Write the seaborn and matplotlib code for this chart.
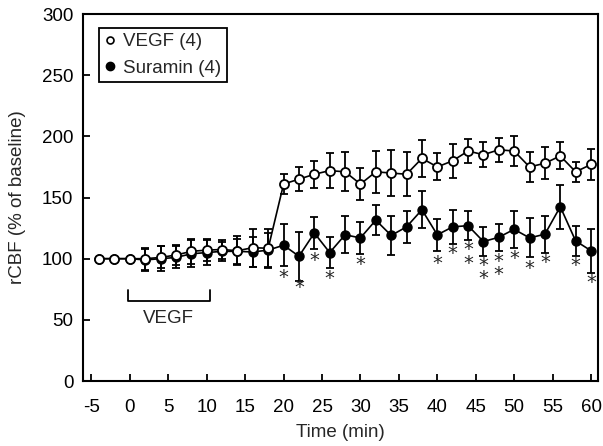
import numpy as np
import pandas as pd
import matplotlib
matplotlib.use("Agg")
import matplotlib.pyplot as plt
from matplotlib.lines import Line2D
import seaborn as sns

# ---- data ----
time = list(range(-4, 62, 2))
vegf_mean = [100, 100, 100, 100, 101, 103, 106, 107, 107.5, 106.5, 109, 108.5,
             161, 165, 169, 172, 171, 161, 171, 170, 169, 182, 175, 180, 188,
             185, 189, 188, 175, 178, 184, 171, 177]
vegf_sem = [0, 0, 0, 9, 9, 8.5, 10, 9, 8, 12, 15.5, 16,
            8, 10, 11, 14, 16, 13, 17, 19, 18, 15, 11, 14, 10,
            10, 10, 12, 12, 13, 11, 8, 13]
suramin_mean = [100, 100, 100, 99, 100, 101, 104, 105, 106, 106, 105.5, 107,
                111, 102, 121, 105, 119.5, 117, 131.5, 119, 126, 140, 119.5, 126, 127,
                114, 117.5, 124, 117, 120, 142.5, 114.5, 106.5]
suramin_sem = [0, 0, 0, 9, 10, 9, 11, 10, 8, 10, 12, 14,
               17, 20, 13, 13, 15, 13, 12, 16, 13, 15, 13, 14, 12,
               12, 11, 15, 16, 15, 18, 12, 18]
# significance asterisks: time, centre height of the group, number stacked
star_times = [20, 22, 24, 26, 30, 40, 42, 44, 46, 48, 50, 52, 54, 58, 60]
star_values = [85, 76.5, 98.5, 84, 95, 96, 104, 101.75, 89.25, 92.5, 100, 92, 97, 94.5, 80.5]
star_counts = [1, 1, 1, 1, 1, 1, 1, 2, 2, 2, 1, 1, 1, 1, 1]
series_labels = ["VEGF (4)", "Suramin (4)"]
x_ticks = list(range(-5, 61, 5))
y_ticks = list(range(0, 301, 50))
bracket_start, bracket_end, bracket_low, bracket_high = -0.3, 10.4, 65, 74
bracket_label = "VEGF"

sns.set_theme(style="ticks")
plt.rcParams['font.family'] = ['Liberation Sans', 'DejaVu Sans']
plt.rcParams['axes.unicode_minus'] = False
FS = 13.5

fig = plt.figure(figsize=(6.03, 4.46), dpi=100)
ax = fig.add_axes([0.1376, 0.1457, 0.854, 0.8229])

df = pd.DataFrame({"time": time, "vegf": vegf_mean, "vegf_sem": vegf_sem,
                   "suramin": suramin_mean, "suramin_sem": suramin_sem})

lw = 1.3
# Suramin (filled)
d = df[df.suramin_sem > 0]
ax.errorbar(d.time, d.suramin, yerr=d.suramin_sem, fmt='none', ecolor='black',
            elinewidth=lw, capsize=3, capthick=lw, zorder=2)
sns.lineplot(data=df, x="time", y="suramin", ax=ax, color='black', linewidth=1.2,
             marker='o', markersize=6.5, markerfacecolor='black',
             markeredgecolor='black', markeredgewidth=1.0, zorder=3)
# VEGF (open)
d = df[df.vegf_sem > 0]
ax.errorbar(d.time, d.vegf, yerr=d.vegf_sem, fmt='none', ecolor='black',
            elinewidth=lw, capsize=3, capthick=lw, zorder=4)
sns.lineplot(data=df, x="time", y="vegf", ax=ax, color='black', linewidth=1.2,
             marker='o', markersize=6.5, markerfacecolor='white',
             markeredgecolor='black', markeredgewidth=1.3, zorder=5)

# asterisks
for t, v, n in zip(star_times, star_values, star_counts):
    ax.text(t, v, "\n".join(["*"] * n), ha='center', va='center', fontsize=14,
            family='DejaVu Sans', linespacing=0.62)

# VEGF bracket
ax.plot([bracket_start, bracket_start, bracket_end, bracket_end],
        [bracket_high, bracket_low, bracket_low, bracket_high], color='black', lw=1.3)
ax.text((bracket_start + bracket_end) / 2, 51, bracket_label, ha='center',
        va='center', fontsize=FS)

ax.set_xlim(-6.1, 60.9)
ax.set_ylim(0, 300)
ax.set_xticks(x_ticks)
ax.set_yticks(y_ticks)
ax.tick_params(axis='both', direction='in', length=5, width=1.3, labelsize=FS,
               colors='black')
ax.tick_params(axis='x', pad=13)
ax.tick_params(axis='y', pad=7)
for s in ax.spines.values():
    s.set_visible(True)
    s.set_linewidth(1.5)
    s.set_color('black')
ax.set_xlabel("Time (min)", fontsize=FS, labelpad=6)
ax.set_ylabel("rCBF (% of baseline)", fontsize=FS, labelpad=11)

handles = [Line2D([], [], linestyle='none', marker='o', markersize=5,
                  markerfacecolor='white', markeredgecolor='black', markeredgewidth=1.2),
           Line2D([], [], linestyle='none', marker='o', markersize=6,
                  markerfacecolor='black', markeredgecolor='black')]
leg = ax.legend(handles, series_labels, loc='upper left', bbox_to_anchor=(0.031, 0.963),
                borderaxespad=0, fontsize=FS, frameon=True, fancybox=False,
                handlelength=0.6, handletextpad=0.4, borderpad=0.3, labelspacing=0.5)
leg.get_frame().set_edgecolor('black')
leg.get_frame().set_linewidth(1.3)
leg.get_frame().set_alpha(1)

fig.savefig("out.png", dpi=100)
